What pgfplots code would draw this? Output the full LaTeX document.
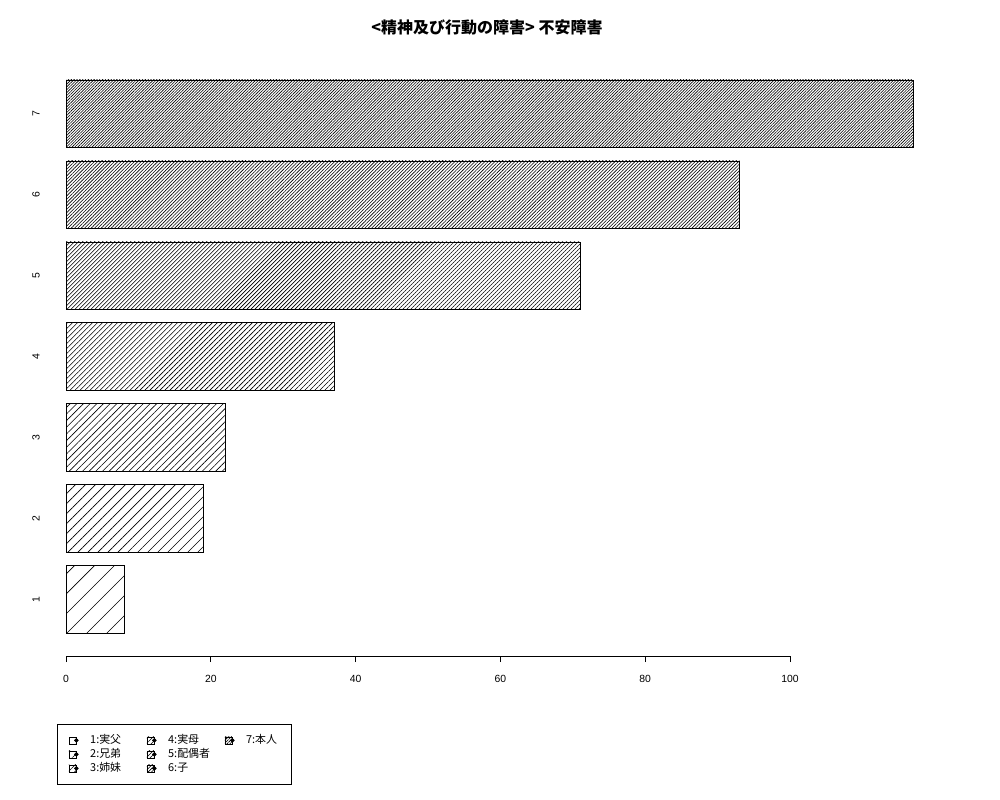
\documentclass[border=0pt]{standalone}
\usepackage{fontspec}
\setmainfont{Liberation Sans}
\newfontfamily\cjk{Noto Sans CJK JP}
\usepackage{pgfplots}
\pgfplotsset{compat=1.18}
\usetikzlibrary{patterns.meta}

% one hatched bar, #1 = line distance
\pgfplotsset{
  hatch/.style={draw=black, line width=0.5pt, bar shift=0pt,
    pattern={Lines[angle=45,distance=#1,line width=0.45pt]},
    legend image code/.code={
      \draw[black,line width=0.45pt,pattern={Lines[angle=45,distance=#1,line width=0.45pt]}]
        (0pt,-2.6pt) rectangle (5.3pt,2.6pt);
      \fill[black] (5.6pt,0pt) circle (1.4pt);}},
}

\begin{document}
\begin{tikzpicture}
\useasboundingbox (0,0) rectangle (750pt,600pt);
\node[font=\cjk\bfseries\fontsize{12}{14}\selectfont] at (365.25pt,579.75pt) {<精神及び行動の障害> 不安障害};
\begin{axis}[
    at={(49.5pt,108pt)}, anchor=south west,
    scale only axis,
    width=651.6pt, height=437.06pt,
    xmin=0, xmax=120, ymin=-0.141, ymax=8.5,
    clip=false,
    xbar,
    bar width=1,
    axis line style={draw=none},
    xtick={0,20,40,60,80,100},
    xtick pos=left,
    tick align=outside,
    major tick length=4.5pt,
    xtick style={black, line width=0.5pt},
    ytick={0.7,1.9,3.1,4.3,5.5,6.7,7.9},
    yticklabels={1,2,3,4,5,6,7},
    ytick style={draw=none},
    ytick pos=left,
    tick label style={font=\fontsize{7.8}{9}\selectfont},
    /pgf/number format/assume math mode=true,
    yticklabel style={xshift=-15pt, rotate=90, anchor=south, inner sep=0pt},
    xticklabel style={anchor=north, inner sep=0pt, yshift=-9.5pt},
    legend columns=3,
    legend cell align=left,
    legend style={at={(-0.0104,-0.1167)}, anchor=north west, draw=black, line width=0.5pt,
      inner xsep=8.5pt, inner ysep=6.75pt,
      font=\cjk\fontsize{8.2}{9}\selectfont,
      nodes={inner sep=1.5pt, text height=6pt, text depth=1.5pt, text width=24pt},
      /tikz/every odd column/.append style={column sep=7.2pt},
      /tikz/every even column/.append style={column sep=16.8pt}},
  ]
  \addplot[hatch=10.6pt, forget plot] coordinates {(8,0.7)};
  \addplot[hatch=5.3pt, forget plot] coordinates {(19,1.9)};
  \addplot[hatch=3.53pt, forget plot] coordinates {(22,3.1)};
  \addplot[hatch=2.65pt, forget plot] coordinates {(37,4.3)};
  \addplot[hatch=2.12pt, forget plot] coordinates {(71,5.5)};
  \addplot[hatch=1.77pt, forget plot] coordinates {(93,6.7)};
  \addplot[hatch=1.51pt, forget plot] coordinates {(117,7.9)};
  % legend filled column by column, as in the reference
  \addlegendimage{hatch=10.6pt}\addlegendentry{1:実父}
  \addlegendimage{hatch=2.65pt}\addlegendentry{4:実母}
  \addlegendimage{hatch=1.51pt}\addlegendentry{7:本人}
  \addlegendimage{hatch=5.3pt}\addlegendentry{2:兄弟}
  \addlegendimage{hatch=2.12pt}\addlegendentry{5:配偶者}
  \addlegendimage{empty legend}\addlegendentry{}
  \addlegendimage{hatch=3.53pt}\addlegendentry{3:姉妹}
  \addlegendimage{hatch=1.77pt}\addlegendentry{6:子}
  \draw[black, line width=0.5pt] (axis cs:0,-0.141) -- (axis cs:100,-0.141);
\end{axis}
\end{tikzpicture}
\end{document}
